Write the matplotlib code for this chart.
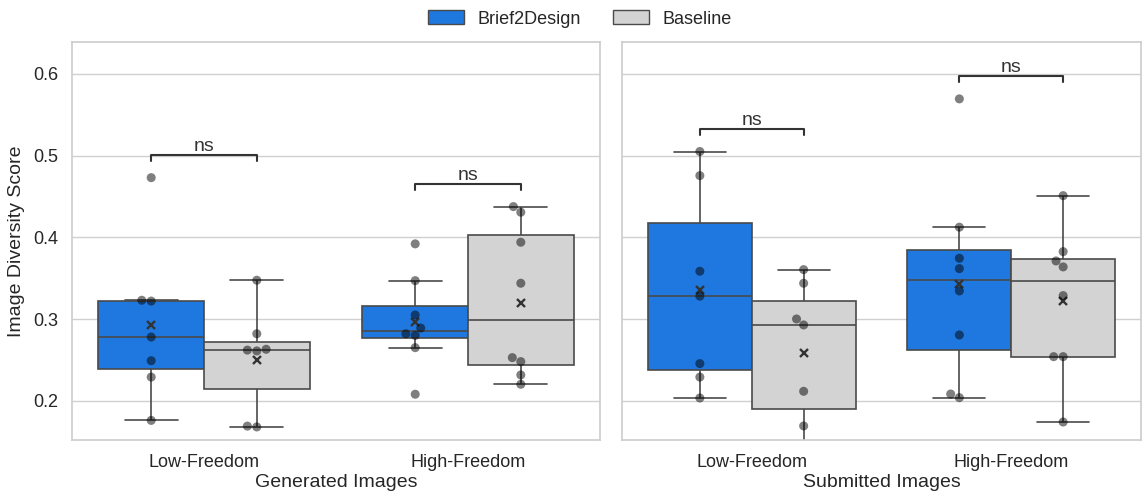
import numpy as np
import pandas as pd
import matplotlib
matplotlib.use("Agg")
import matplotlib.pyplot as plt
import seaborn as sns
from matplotlib.patches import Patch

# ---- data ----
conditions = ["Low-Freedom", "High-Freedom"]
methods = ["Brief2Design", "Baseline"]
panel_titles = ["Generated Images", "Submitted Images"]

gen_low_b2d = [0.473, 0.323, 0.322, 0.278, 0.249, 0.229, 0.176]
gen_low_base = [0.3475, 0.282, 0.263, 0.262, 0.261, 0.169, 0.168]
gen_high_b2d = [0.392, 0.347, 0.305, 0.289, 0.282, 0.280, 0.265, 0.208]
gen_high_base = [0.4376, 0.4307, 0.394, 0.3438, 0.2528, 0.2479, 0.2316, 0.2202]

sub_low_b2d = [0.505, 0.4755, 0.3585, 0.328, 0.2455, 0.229, 0.2034]
sub_low_base = [0.3605, 0.3438, 0.3001, 0.2928, 0.2116, 0.1692, 0.129]
sub_high_b2d = [0.5694, 0.4124, 0.3744, 0.3617, 0.3344, 0.2805, 0.2083, 0.2038]
sub_high_base = [0.451, 0.3825, 0.3711, 0.3638, 0.3287, 0.254, 0.254, 0.174]

annot_text = "ns"
ylabel = "Image Diversity Score"
y_ticks = [0.2, 0.3, 0.4, 0.5, 0.6]

colors = {"Brief2Design": "#1f78df", "Baseline": "#d3d3d3"}
line_color = "#4a4a4a"


def long_df(groups):
    rows = []
    for cond, meth, vals in groups:
        for v in vals:
            rows.append({"cond": cond, "method": meth, "score": v})
    return pd.DataFrame(rows)


panels = [
    long_df([("Low-Freedom", "Brief2Design", gen_low_b2d),
             ("Low-Freedom", "Baseline", gen_low_base),
             ("High-Freedom", "Brief2Design", gen_high_b2d),
             ("High-Freedom", "Baseline", gen_high_base)]),
    long_df([("Low-Freedom", "Brief2Design", sub_low_b2d),
             ("Low-Freedom", "Baseline", sub_low_base),
             ("High-Freedom", "Brief2Design", sub_high_b2d),
             ("High-Freedom", "Baseline", sub_high_base)]),
]

sns.set_theme(style="whitegrid")
plt.rcParams["font.family"] = ["Liberation Sans", "DejaVu Sans"]

fig = plt.figure(figsize=(11.42, 4.96), dpi=100)
H = 496.0
W = 1142.0
bot = 1 - 440 / H
top = 1 - 42 / H
axes = [fig.add_axes([72 / W, bot, (600 - 72) / W, top - bot]),
        fig.add_axes([622 / W, bot, (1141 - 622) / W, top - bot])]

for i, (ax, df) in enumerate(zip(axes, panels)):
    sns.boxplot(data=df, x="cond", y="score", hue="method", order=conditions,
                hue_order=methods, palette=colors, saturation=1, width=0.8,
                showfliers=False, showmeans=True, linecolor=line_color,
                linewidth=1.2,
                meanprops=dict(marker="x", markeredgecolor="#333333",
                               markerfacecolor="#333333", markersize=5.5,
                               markeredgewidth=1.7),
                ax=ax, legend=False, zorder=2)
    sns.swarmplot(data=df, x="cond", y="score", hue="method", order=conditions,
                  hue_order=methods, dodge=True, palette=["black", "black"],
                  alpha=0.5, size=6.5, ax=ax, legend=False, zorder=3)
    ax.set_ylim(0.152, 0.639)
    ax.set_xlim(-0.5, 1.5)
    ax.set_yticks(y_ticks)
    ax.set_xlabel(panel_titles[i], fontsize=14, labelpad=2)
    ax.tick_params(axis="x", labelsize=13, pad=4)
    ax.tick_params(axis="y", labelsize=13, pad=4)
    if i == 0:
        ax.set_ylabel(ylabel, fontsize=14, labelpad=6)
    else:
        ax.set_ylabel("")
        ax.set_yticklabels([])
    for s in ax.spines.values():
        s.set_color("#cccccc")
        s.set_linewidth(1.2)
    ax.grid(axis="y", color="#d0d0d0", linewidth=1.0)
    ax.grid(axis="x", visible=False)

    # significance brackets
    for ci, cond in enumerate(conditions):
        ymax = df[df["cond"] == cond]["score"].max()
        y_line = ymax + 0.028
        x1, x2 = ci - 0.2, ci + 0.2
        ax.plot([x1, x1, x2, x2], [y_line - 0.0075, y_line, y_line, y_line - 0.0075],
                color="#333333", lw=1.5, clip_on=False, zorder=4)
        ax.text((x1 + x2) / 2, y_line, annot_text, ha="center", va="bottom",
                fontsize=14, color="#333333")

handles = [Patch(facecolor=colors[m], edgecolor=line_color, linewidth=1.0, label=m)
           for m in methods]
fig.legend(handles=handles, loc="center", bbox_to_anchor=(580 / W, 1 - 19 / H),
           ncol=2, frameon=False, fontsize=13, handlelength=2.0,
           handleheight=0.8, columnspacing=1.75, handletextpad=0.75)

fig.savefig("out.png", dpi=100)
